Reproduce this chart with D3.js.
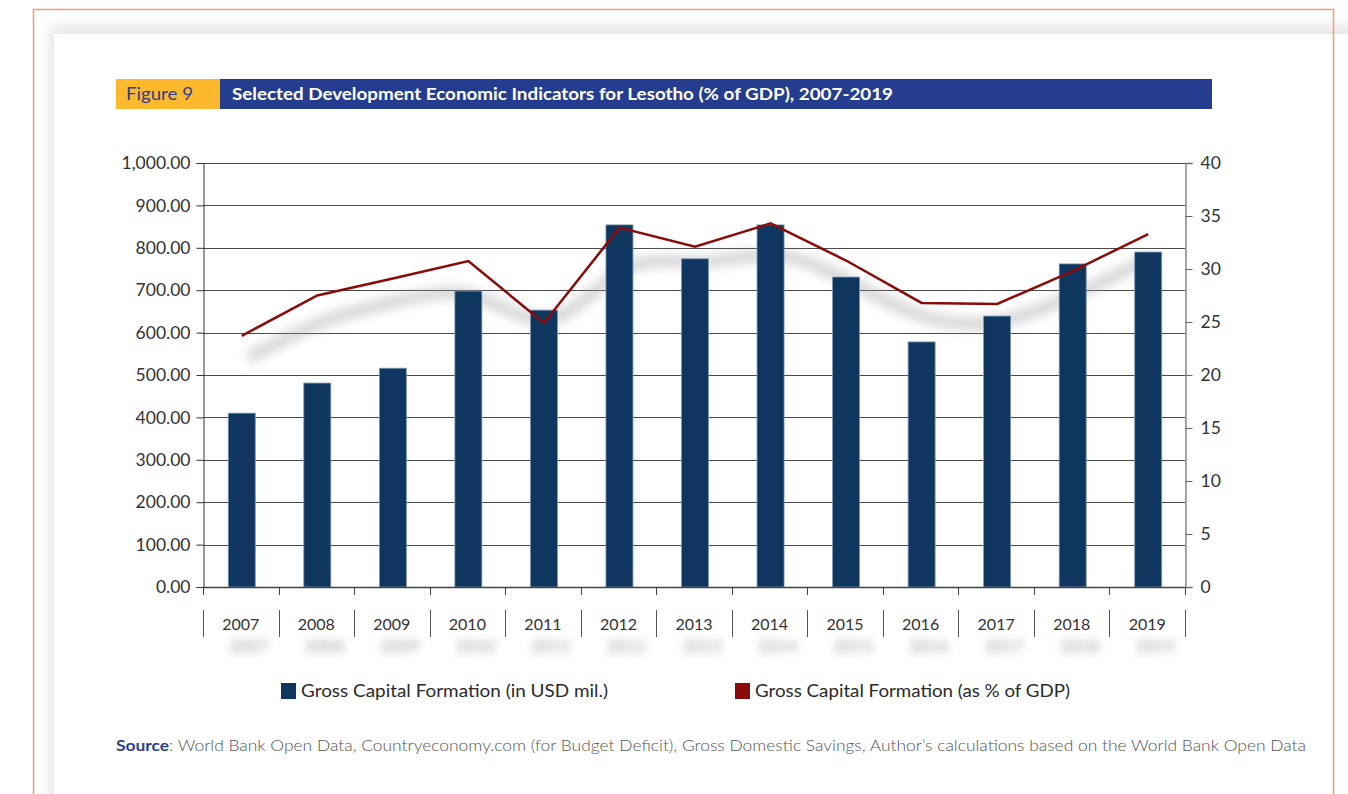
<!DOCTYPE html>
<html><head><meta charset="utf-8">
<script src="https://cdn.jsdelivr.net/npm/d3@7"></script>
<style>
html,body{margin:0;padding:0;background:#fff;}
svg{display:block;font-family:Lato,"Open Sans",sans-serif;}
</style></head>
<body>
<svg id="c" width="1348" height="794"></svg>
<script>
const years = ["2007","2008","2009","2010","2011","2012","2013","2014","2015","2016","2017","2018","2019"];
const gcfUsd = [410, 481, 516, 698, 653, 854, 774, 854, 731, 578, 639, 762, 790];
const gcfPct = [23.7, 27.5, 29.1, 30.75, 24.9, 33.9, 32.1, 34.3, 30.8, 26.8, 26.7, 29.8, 33.3];
const leftTicks = [0,100,200,300,400,500,600,700,800,900,1000];
const rightTicks = [0,5,10,15,20,25,30,35,40];
const seriesNames = ["Gross Capital Formation (in USD mil.)", "Gross Capital Formation (as % of GDP)"];

const svg = d3.select("#c");
const defs = svg.append("defs");
defs.append("filter").attr("id","blur8").attr("x","-20%").attr("y","-50%").attr("width","140%").attr("height","200%")
  .append("feGaussianBlur").attr("stdDeviation",6);
defs.append("filter").attr("id","blur3").attr("x","-30%").attr("y","-100%").attr("width","160%").attr("height","300%")
  .append("feGaussianBlur").attr("stdDeviation",4);
defs.append("filter").attr("id","blurCard").attr("x","-10%").attr("y","-10%").attr("width","120%").attr("height","120%")
  .append("feGaussianBlur").attr("stdDeviation",8);

// outer frame
svg.append("rect").attr("x",50).attr("y",26).attr("width",1320).attr("height",800)
  .attr("fill","#e4e4e4").attr("filter","url(#blurCard)");
svg.append("rect").attr("x",54).attr("y",34).attr("width",1320).attr("height",800).attr("fill","#fff");
svg.append("rect").attr("x",33.5).attr("y",9.5).attr("width",1300).attr("height",820)
  .attr("fill","none").attr("stroke","#f39a76").attr("stroke-width",1.5);

// header
svg.append("rect").attr("x",116).attr("y",79).attr("width",104).attr("height",30).attr("fill","#fdb92e");
svg.append("rect").attr("x",220).attr("y",79).attr("width",992).attr("height",30).attr("fill","#253d8f");
svg.append("text").attr("x",126).attr("y",100).attr("font-size",17).attr("fill","#2b3f8c").text("Figure 9")
  .attr("textLength",67).attr("lengthAdjust","spacingAndGlyphs");
svg.append("text").attr("x",232).attr("y",100).attr("font-size",17).attr("font-weight","bold").attr("fill","#fff")
  .text("Selected Development Economic Indicators for Lesotho (% of GDP), 2007-2019")
  .attr("textLength",661).attr("lengthAdjust","spacingAndGlyphs");

const L = 203, R = 1185, T = 163, B = 587;
const x = d3.scaleBand().domain(years).range([L,R]);
const yL = d3.scaleLinear().domain([0,1000]).range([B,T]);
const yR = d3.scaleLinear().domain([0,40]).range([B,T]);

// gridlines
svg.append("g").selectAll("line").data(leftTicks.filter(d=>d>0)).join("line")
  .attr("x1",L).attr("x2",R).attr("y1",d=>Math.round(yL(d))+0.5).attr("y2",d=>Math.round(yL(d))+0.5)
  .attr("stroke","#4a4a4a").attr("stroke-width",1);

// shadow of line
const shadowLine = d3.line().x((d,i)=>x(years[i])+x.bandwidth()/2+8).y(d=>yR(d)+22).curve(d3.curveBasis);
svg.append("path").attr("d",shadowLine(gcfPct)).attr("fill","none").attr("stroke","#9a9a9a")
  .attr("stroke-width",9).attr("opacity",0.55).attr("filter","url(#blur8)");

// bars
const bw = 27;
svg.append("g").selectAll("rect").data(gcfUsd).join("rect")
  .attr("x",(d,i)=>x(years[i])+x.bandwidth()/2-bw/2+1)
  .attr("y",d=>yL(d)).attr("width",bw).attr("height",d=>B-yL(d))
  .attr("fill","#0e365f").attr("stroke","#7f97b3").attr("stroke-width",0.8);

// line
const line = d3.line().x((d,i)=>x(years[i])+x.bandwidth()/2+1).y(d=>yR(d));
svg.append("path").attr("d",line(gcfPct)).attr("fill","none").attr("stroke","#8b0a0a").attr("stroke-width",2.5)
  .attr("stroke-linejoin","miter");

// left axis
const axL = d3.axisLeft(yL).tickValues(leftTicks).tickSize(7).tickPadding(6)
  .tickFormat(d=>d3.format(",.2f")(d));
const gL = svg.append("g").attr("transform",`translate(${L+0.5},0)`).call(axL);
gL.select(".domain").attr("stroke","#333");
gL.selectAll(".tick line").attr("stroke","#333");
gL.selectAll("text").attr("font-size",17.5).attr("fill","#333").attr("font-family","Lato, sans-serif");

// right axis
const axR = d3.axisRight(yR).tickValues(rightTicks).tickSize(7).tickPadding(8);
const gR = svg.append("g").attr("transform",`translate(${R+0.5},0)`).call(axR);
gR.select(".domain").attr("stroke","#888").attr("stroke-width",1.5);
gR.selectAll(".tick line").attr("stroke","#666");
gR.selectAll("text").attr("font-size",17.5).attr("fill","#333").attr("font-family","Lato, sans-serif");

// x axis line
svg.append("line").attr("x1",L).attr("x2",R).attr("y1",B+0.5).attr("y2",B+0.5).attr("stroke","#444").attr("stroke-width",1.5);
const bounds = years.map(y=>x(y)).concat([R]);
svg.append("g").selectAll("line").data(bounds).join("line")
  .attr("x1",d=>Math.round(d)+0.5).attr("x2",d=>Math.round(d)+0.5).attr("y1",B).attr("y2",B+8).attr("stroke","#444");
svg.append("g").selectAll("line").data(bounds).join("line")
  .attr("x1",d=>Math.round(d)+0.5).attr("x2",d=>Math.round(d)+0.5).attr("y1",610).attr("y2",637).attr("stroke","#555");
// label shadows
svg.append("g").selectAll("text").data(years).join("text")
  .attr("x",d=>x(d)+x.bandwidth()/2+8).attr("y",652).attr("text-anchor","middle")
  .attr("font-size",17).attr("font-weight","bold").attr("fill","#999").attr("opacity",0.7).attr("filter","url(#blur3)").text(d=>d);
svg.append("g").selectAll("text").data(years).join("text")
  .attr("x",d=>x(d)+x.bandwidth()/2).attr("y",630).attr("text-anchor","middle")
  .attr("font-size",16).attr("fill","#333").text(d=>d);

// legend
const legend = [{c:"#0e365f",x:281,t:seriesNames[0],w:307},{c:"#8b0a0a",x:735,t:seriesNames[1],w:315}];
legend.forEach(l=>{
  svg.append("rect").attr("x",l.x).attr("y",683).attr("width",15).attr("height",16).attr("fill",l.c);
  svg.append("text").attr("x",l.x+20).attr("y",697).attr("font-size",18).attr("fill","#2a2a2a").text(l.t)
    .attr("textLength",l.w).attr("lengthAdjust","spacingAndGlyphs");
});

// source
const src = svg.append("text").attr("x",116).attr("y",751).attr("font-size",15.5).attr("fill","#555")
  .attr("textLength",1190).attr("lengthAdjust","spacingAndGlyphs");
src.append("tspan").attr("font-weight","bold").attr("fill","#2b3f8c").text("Source");
src.append("tspan").attr("font-weight","300").text(": World Bank Open Data, Countryeconomy.com (for Budget Deficit), Gross Domestic Savings, Author’s calculations based on the World Bank Open Data");
</script>
</body></html>
